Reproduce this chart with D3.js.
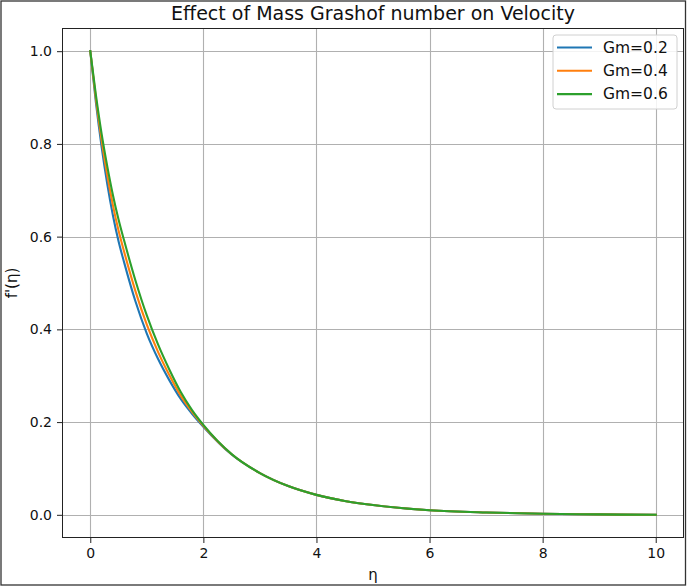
<!DOCTYPE html>
<html>
<head>
<meta charset="utf-8">
<script src="https://cdn.jsdelivr.net/npm/d3@7"></script>
<style>
  html, body { margin: 0; padding: 0; background: #fff; }
  svg { display: block; font-family: "DejaVu Sans", sans-serif; }
</style>
</head>
<body>
<svg id="chart" width="687" height="587"></svg>
<script>
// ---- data ----
const eta = [0, 0.1, 0.2, 0.3, 0.4, 0.5, 0.6, 0.8, 1.0, 1.2, 1.4, 1.6, 1.8, 2.0, 2.5, 3.0, 3.5, 4.0, 4.5, 5.0, 6.0, 7.0, 8.0, 9.0, 10.0];
const gm02 = [1.000, 0.889, 0.794, 0.714, 0.646, 0.590, 0.544, 0.460, 0.391, 0.336, 0.290, 0.250, 0.218, 0.190, 0.130, 0.090, 0.062, 0.043, 0.030, 0.021, 0.010, 0.005, 0.0022, 0.0009, 0.0];
const gm04 = [1.000, 0.897, 0.808, 0.733, 0.668, 0.613, 0.567, 0.482, 0.410, 0.351, 0.301, 0.257, 0.222, 0.192, 0.1305, 0.090, 0.062, 0.043, 0.030, 0.021, 0.010, 0.005, 0.0022, 0.0009, 0.0];
const gm06 = [1.000, 0.905, 0.822, 0.752, 0.690, 0.637, 0.591, 0.505, 0.430, 0.367, 0.313, 0.265, 0.226, 0.194, 0.131, 0.090, 0.062, 0.043, 0.030, 0.021, 0.010, 0.005, 0.0022, 0.0009, 0.0];
const seriesNames = ["Gm=0.2", "Gm=0.4", "Gm=0.6"];
const seriesColors = ["#1f77b4", "#ff7f0e", "#2ca02c"];
const xTicks = [0, 2, 4, 6, 8, 10];
const yTicks = [0.0, 0.2, 0.4, 0.6, 0.8, 1.0];
const titleText = "Effect of Mass Grashof number on Velocity";
const xLabel = "η";
const yLabel = "f'(η)";

const seriesValues = [gm02, gm04, gm06];
const series = seriesNames.map((name, i) => ({
  name, color: seriesColors[i],
  points: eta.map((e, j) => ({ x: e, y: seriesValues[i][j] }))
}));

// ---- layout ----
const svg = d3.select("#chart");
const W = 687, H = 587;
const plot = { left: 62, right: 684, top: 28, bottom: 538 };

// outer frame
svg.append("rect").attr("x", 1).attr("y", 1).attr("width", W - 2.5).attr("height", H - 3)
  .attr("fill", "#fff").attr("stroke", "#333").attr("stroke-width", 1.3);

const x = d3.scaleLinear().domain([-0.5, 10.5]).range([plot.left, plot.right]);
const y = d3.scaleLinear().domain([-0.05, 1.05]).range([plot.bottom, plot.top]);

// grid
const grid = svg.append("g");
grid.selectAll("line.gx").data(xTicks).enter().append("line")
  .attr("x1", d => Math.round(x(d)) + 0.5).attr("x2", d => Math.round(x(d)) + 0.5)
  .attr("y1", plot.top).attr("y2", plot.bottom)
  .attr("stroke", "#b0b0b0").attr("stroke-width", 1.1);
grid.selectAll("line.gy").data(yTicks).enter().append("line")
  .attr("y1", d => Math.round(y(d)) + 0.5).attr("y2", d => Math.round(y(d)) + 0.5)
  .attr("x1", plot.left).attr("x2", plot.right)
  .attr("stroke", "#b0b0b0").attr("stroke-width", 1.1);

// axes
const xAxis = d3.axisBottom(x).tickValues(xTicks).tickFormat(d3.format("d")).tickSizeOuter(0).tickSize(5).tickPadding(5);
const yAxis = d3.axisLeft(y).tickValues(yTicks).tickFormat(d3.format(".1f")).tickSizeOuter(0).tickSize(5).tickPadding(5);

const gx = svg.append("g").attr("transform", `translate(0,${plot.bottom})`).call(xAxis);
const gy = svg.append("g").attr("transform", `translate(${plot.left},0)`).call(yAxis);
[gx, gy].forEach(g => {
  g.select(".domain").remove();
  g.selectAll("line").attr("stroke", "#222").attr("stroke-width", 1);
  g.selectAll("text").attr("fill", "#111").style("font-size", "14px").style("font-family", "DejaVu Sans, sans-serif");
});

// lines
const line = d3.line().x(d => x(d.x)).y(d => y(d.y)).curve(d3.curveMonotoneX);
svg.append("g").selectAll("path").data(series).enter().append("path")
  .attr("d", d => line(d.points))
  .attr("fill", "none").attr("stroke", d => d.color).attr("stroke-width", 2.1)
  .attr("stroke-linejoin", "round").attr("stroke-linecap", "square");

// spines
svg.append("rect").attr("x", plot.left + 0.5).attr("y", plot.top + 0.5)
  .attr("width", plot.right - plot.left - 1).attr("height", plot.bottom - plot.top - 1)
  .attr("fill", "none").attr("stroke", "#222").attr("stroke-width", 1);

// title & labels
svg.append("text").attr("x", (plot.left + plot.right) / 2).attr("y", 20)
  .attr("text-anchor", "middle").style("font-size", "19px").attr("fill", "#111").text(titleText);
svg.append("text").attr("x", (plot.left + plot.right) / 2).attr("y", 580)
  .attr("text-anchor", "middle").style("font-size", "15px").attr("fill", "#111").text(xLabel);
svg.append("text").attr("transform", `translate(12,${(plot.top + plot.bottom) / 2}) rotate(-90)`)
  .attr("text-anchor", "middle").attr("dominant-baseline", "central")
  .style("font-size", "15px").attr("fill", "#111").text(yLabel);

// legend
const lg = svg.append("g");
lg.append("rect").attr("x", 553).attr("y", 35).attr("width", 124).attr("height", 74)
  .attr("rx", 3).attr("fill", "#fff").attr("fill-opacity", 0.85)
  .attr("stroke", "#d0d0d0").attr("stroke-width", 1);
series.forEach((s, i) => {
  const yy = 47.5 + i * 23.3;
  lg.append("line").attr("x1", 557).attr("x2", 592).attr("y1", yy).attr("y2", yy)
    .attr("stroke", s.color).attr("stroke-width", 2.1);
  lg.append("text").attr("x", 603).attr("y", yy).attr("dominant-baseline", "central")
    .style("font-size", "15.5px").attr("fill", "#111").text(s.name);
});
</script>
</body>
</html>
